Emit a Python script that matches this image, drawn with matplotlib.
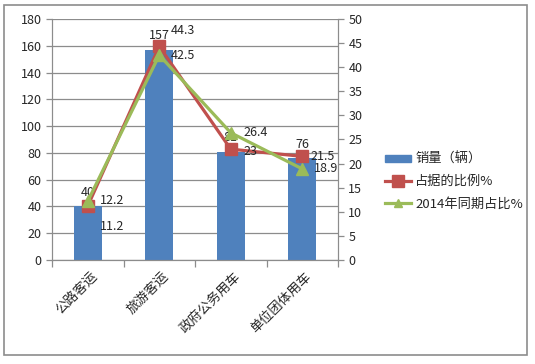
import matplotlib
matplotlib.use('Agg')
import matplotlib.pyplot as plt
from matplotlib.patches import Rectangle
from matplotlib.lines import Line2D
from matplotlib.patches import Patch
import matplotlib.transforms as mtransforms

plt.rcParams['font.family'] = ['Noto Sans CJK SC', 'DejaVu Sans']

categories = ['公路客运', '旅游客运', '政府公务用车', '单位团体用车']
sales = [40, 157, 81, 76]
share_pct = [11.2, 44.3, 23, 21.5]
share_2014 = [12.2, 42.5, 26.4, 18.9]

# label offsets in pixels (dx, dy up)
share_off = [(24, -20), (24, 16), (20, -2), (20, 0)]
y2014_off = [(24, 1), (24, 0), (25, 0), (24, 0)]

BLUE = '#4F81BD'
RED = '#C0504D'
GREEN = '#9BBB59'
GRAY = '#8C8C8C'
TXT = '#262626'

fig = plt.figure(figsize=(5.35, 3.64), dpi=100)
ax = fig.add_axes([52/535, 1-260/364, 286/535, 241/364])
ax2 = ax.twinx()

x = range(len(categories))
ax.bar(x, sales, width=0.39, color=BLUE, zorder=2)
ax.set_xlim(-0.5, len(categories) - 0.5)
ax.set_ylim(0, 180)
ax.set_yticks(range(0, 181, 20))
ax.yaxis.grid(True, color=GRAY, linewidth=0.9)
ax.set_axisbelow(True)

ax2.plot(x, share_pct, color=RED, linewidth=2.3, marker='s', markersize=8, zorder=3)
ax2.plot(x, share_2014, color=GREEN, linewidth=2.3, marker='^', markersize=8, zorder=4)
ax2.set_ylim(0, 50)
ax2.set_yticks(range(0, 51, 5))

for a in (ax, ax2):
    a.spines['top'].set_visible(False)
    for s in ['left', 'right', 'bottom']:
        a.spines[s].set_color(GRAY)
    a.tick_params(axis='y', colors=GRAY, labelcolor=TXT, labelsize=9, length=4, width=0.9)

ax.set_xticks(list(x))
ax.set_xticklabels(categories, rotation=45, ha='right', fontsize=9.5, color=TXT)
ax.tick_params(axis='x', length=0, pad=7)
ax.set_xticks([i - 0.5 for i in range(len(categories) + 1)], minor=True)
ax.tick_params(axis='x', which='minor', length=5, color=GRAY, width=0.9)
off = mtransforms.ScaledTranslation(12/100, 0, fig.dpi_scale_trans)
for lbl in ax.get_xticklabels():
    lbl.set_transform(lbl.get_transform() + off)

for i, v in enumerate(sales):
    ax.annotate(str(v), (i, v), xytext=(0, 14*0.72), textcoords='offset points',
                ha='center', va='center', fontsize=9, color=TXT, zorder=5)
for i, v in enumerate(share_pct):
    ax2.annotate(f'{v:g}', (i, v), xytext=(share_off[i][0]*0.72, share_off[i][1]*0.72),
                 textcoords='offset points', ha='center', va='center', fontsize=9, color=TXT, zorder=5)
for i, v in enumerate(share_2014):
    ax2.annotate(f'{v:g}', (i, v), xytext=(y2014_off[i][0]*0.72, y2014_off[i][1]*0.72),
                 textcoords='offset points', ha='center', va='center', fontsize=9, color=TXT, zorder=5)

handles = [Patch(color=BLUE),
           Line2D([], [], color=RED, linewidth=2.3, marker='s', markersize=8),
           Line2D([], [], color=GREEN, linewidth=2.3, marker='^', markersize=6)]
labels = ['销量（辆）', '占据的比例%', '2014年同期占比%']
fig.legend(handles, labels, loc='upper left', bbox_to_anchor=(373/535, 1-141/364),
           frameon=False, fontsize=9.5, handlelength=2.0, handleheight=0.5,
           handletextpad=0.3, labelspacing=0.7, labelcolor=TXT)

fig.patches.append(Rectangle((4/535, 1-355/364), 523/535, 350/364, transform=fig.transFigure,
                             fill=False, edgecolor=GRAY, linewidth=1.2))

fig.savefig('out.png', dpi=100)
